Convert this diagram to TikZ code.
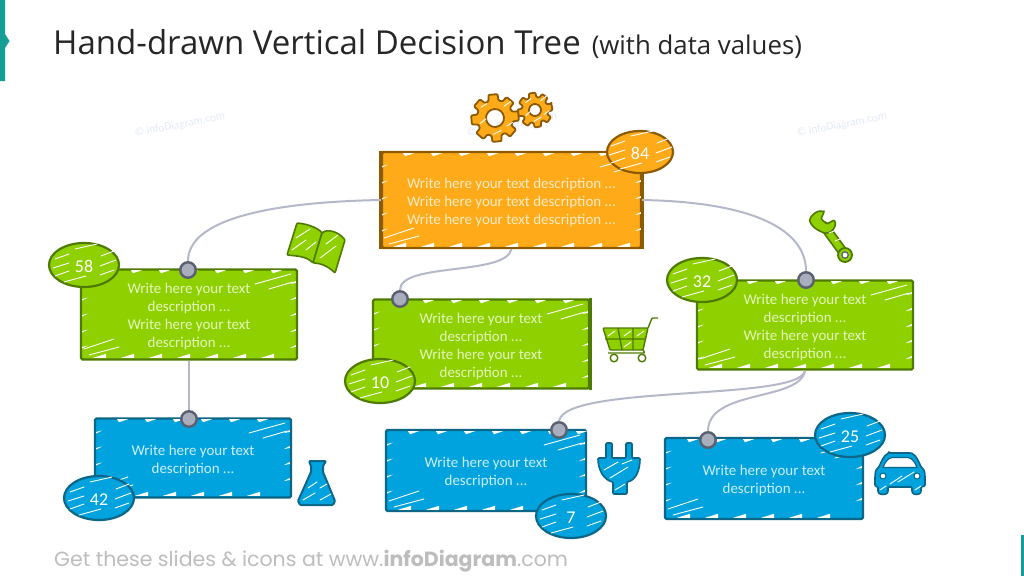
\documentclass[tikz,border=0pt]{standalone}
\usepackage{fontspec}
\setmainfont{Carlito}
\newfontfamily\titlefont{Open Sans}
\newfontfamily\footfont{Poppins}
\usetikzlibrary{shapes.geometric}
\definecolor{orfill}{HTML}{FFAB19}\definecolor{oredge}{HTML}{8C5A00}\definecolor{ortext}{HTML}{FFEBC4}
\definecolor{grfill}{HTML}{8FD000}\definecolor{gredge}{HTML}{4F7A00}\definecolor{grtext}{HTML}{E4F6BE}
\definecolor{blfill}{HTML}{00A3DE}\definecolor{bledge}{HTML}{0B6687}\definecolor{bltext}{HTML}{CDEEFB}
\definecolor{conn}{HTML}{B4B8C8}\definecolor{dotfill}{HTML}{A9AEBC}\definecolor{dotedge}{HTML}{5B6070}
\definecolor{teal}{HTML}{159E96}\definecolor{wm}{HTML}{E3EAF7}\definecolor{foot}{HTML}{BDBDBD}
\newcommand{\leadstrut}{\rule{0pt}{15.2pt}}
\tikzset{
  card/.style={draw,line width=2.2pt,rounded corners=1.5pt,align=center,inner sep=0pt,
    font=\fontsize{14.95}{18}\selectfont},
  orcard/.style={card,draw=oredge,fill=orfill,text=ortext},
  grcard/.style={card,draw=gredge,fill=grfill,text=grtext},
  blcard/.style={card,draw=bledge,fill=blfill,text=bltext},
  bubble/.style={ellipse,draw,line width=2.2pt,inner sep=0pt,text=white,minimum width=70pt,minimum height=44pt,
    font=\fontsize{18}{20}\selectfont,execute at begin node={\rule{0pt}{15pt}}},
  tick/.style={draw=white,line width=0.9pt,line cap=round},
  connector/.style={draw=conn,line width=2pt},
  pin/.style={circle,draw=dotedge,fill=dotfill,line width=2.4pt,minimum size=15.5pt,inner sep=0pt},
  icon/.style={line width=1.6pt,line join=round,rounded corners=1pt},
  watermark/.style={text=wm,rotate=11,font=\fontsize{11.4}{12}\selectfont},
}
\newcommand{\boxticks}[4]{%
  \pgfmathsetmacro\xa{#1+22}\pgfmathsetmacro\xb{#1+50}\pgfmathsetmacro\xe{#3-10}%
  \pgfmathsetmacro\ya{#2+14}\pgfmathsetmacro\yb{#2+30}\pgfmathsetmacro\ye{#4-8}%
  \foreach \x in {\xa,\xb,...,\xe}{%
    \fill[white] (\x,#2+1.2) -- ++(11,0) -- ++(-9,3) -- cycle;
    \fill[white] (\x-10,#4-1.2) -- ++(13,0) -- ++(0,-4) -- cycle;}
  \foreach \y in {\ya,\yb,...,\ye}{%
    \fill[white] (#1+1.2,\y) -- ++(6,-1.5) -- ++(-6,3) -- cycle;
    \fill[white] (#3-1.2,\y) -- ++(-6,1) -- ++(6,-3) -- cycle;}
  \draw[tick] (#3-42,#2+15) -- ++(36,-10); \draw[tick] (#3-28,#2+20) -- ++(24,-7);
  \draw[tick] (#1+3,#4-10) -- ++(30,-10); \draw[tick] (#1+8,#4-4) -- ++(30,-8);
}
\newcommand{\bubbleticks}[1]{%
  \begin{scope}[shift={(#1.center)}]
    \draw[tick] (-29,-6) -- ++(14,-5); \draw[tick] (-31,3) -- ++(16,-5); \draw[tick] (-29,11) -- ++(14,-5);
    \draw[tick] (-20,17) -- ++(22,-6); \draw[tick] (-9,-16) -- ++(22,-5);
    \draw[tick] (17,-9) -- ++(13,-5); \draw[tick] (16,1) -- ++(16,-6); \draw[tick] (16,10) -- ++(14,-5);
  \end{scope}}
\newcommand{\gearshape}[6]{% cx cy outer inner hole rot
  \begin{scope}[shift={(#1,#2)},rotate=#6]
    \draw[icon,draw=oredge,fill=orfill,even odd rule,line width=1.8pt]
      (-11:#3) \foreach \a in {0,45,...,315}{
        -- (\a-11:#3) -- (\a+11:#3) -- (\a+16:#4) -- (\a+29:#4)}
      -- cycle (0,0) circle (#5);
    \draw[tick] (-#4+3,4) -- ++(6,-4); \draw[tick] (#5+1,-#5-2) -- ++(7,-4); \draw[tick] (-3,#4-2) -- ++(8,-3);
    \draw[tick] (#5+2,#5) -- ++(6,-3); \draw[tick] (-#4+5,-#5-3) -- ++(6,-3);
  \end{scope}}
\begin{document}
\begin{tikzpicture}[x=1pt,y=-1pt]
\useasboundingbox (0,0) rectangle (1024,576);
\fill[white] (0,0) rectangle (1024,576);
% frame accents
\fill[teal] (0,0) -- (5,0) -- (5,34) -- (9.5,41) -- (5,48) -- (5,81) -- (0,81) -- cycle;
\fill[teal] (1021,535) rectangle (1024,576);
% title
\node[anchor=base west,inner sep=0pt,text=black!85] (title) at (53,54)
  {\titlefont\fontsize{33}{38}\selectfont Hand-drawn Vertical Decision Tree\hspace{11pt}\fontsize{25.8}{30}\selectfont (with data values)};
% watermarks
\node[watermark] (wm1) at (180,125) {© infoDiagram.com};
\node[watermark] (wm2) at (512,125) {© infoDiagram.com};
\node[watermark] (wm3) at (842,125) {© infoDiagram.com};
% footer
\node[anchor=base west,inner sep=0pt,text=foot] (footer) at (54,566)
  {\footfont\fontsize{20.5}{22}\selectfont Get these slides \& icons at www.\textbf{infoDiagram}.com};
% cards
\node[orcard,minimum width=259pt,minimum height=96pt] (top) at (511.5,200)
  {\leadstrut Write here your text description ...\\Write here your text description ...\\Write here your text description ...};
\draw[oredge,line width=3.5pt] (top.north west) -- (top.south west) (top.north east) -- (top.south east);
\boxticks{381}{152}{642}{248}
\node[grcard,minimum width=216pt,minimum height=90pt] (gl) at (189,314.5)
  {\leadstrut Write here your text\\description ...\\Write here your text\\description ...};
\boxticks{81}{269}{297}{359}
\node[grcard,minimum width=216pt,minimum height=89pt] (gm) at (481,344)
  {\leadstrut Write here your text\\description ...\\Write here your text\\description ...};
\draw[gredge,line width=2.8pt] (gm.north east) -- (gm.south east);
\boxticks{373}{299}{589}{388}
\node[grcard,minimum width=216pt,minimum height=89pt] (gr) at (805,325)
  {\leadstrut Write here your text\\description ...\\Write here your text\\description ...};
\boxticks{697}{280}{913}{369}
\node[blcard,minimum width=196pt,minimum height=79pt] (bl) at (193,458)
  {\leadstrut Write here your text\\description ...};
\boxticks{95}{418}{291}{497}
\node[blcard,minimum width=200pt,minimum height=81pt] (bm) at (486,470.5)
  {\leadstrut Write here your text\\description ...};
\boxticks{386}{430}{586}{511}
\node[blcard,minimum width=198pt,minimum height=81pt] (br) at (764,478.5)
  {\leadstrut Write here your text\\description ...};
\boxticks{665}{438}{863}{519}
% bubbles
\node[bubble,draw=oredge,fill=orfill,minimum width=66pt,minimum height=42pt] (n84) at (640,152) {84};
\bubbleticks{n84}
\node[bubble,draw=gredge,fill=grfill] (n58) at (84,265) {58}; \bubbleticks{n58}
\node[bubble,draw=gredge,fill=grfill] (n10) at (380,381) {10}; \bubbleticks{n10}
\node[bubble,draw=gredge,fill=grfill] (n32) at (702,280) {32}; \bubbleticks{n32}
\node[bubble,draw=bledge,fill=blfill] (n42) at (99,498) {42}; \bubbleticks{n42}
\node[bubble,draw=bledge,fill=blfill] (n7) at (571,516) {7}; \bubbleticks{n7}
\node[bubble,draw=bledge,fill=blfill] (n25) at (850,435) {25}; \bubbleticks{n25}
% pins
\node[pin] (pgl) at (188,270) {};
\node[pin] (pgm) at (400,299) {};
\node[pin] (pgr) at (806,280) {};
\node[pin] (pbl) at (189,419) {};
\node[pin] (pbm) at (559,430) {};
\node[pin] (pbr) at (708,440) {};
% connectors
\draw[connector] (top.west) .. controls +(-110,2) and +(0,-42) .. (pgl.north);
\draw[connector] (top.south) .. controls +(-6,27) and +(0,-28) .. (pgm.north);
\draw[connector] (top.east) .. controls +(110,2) and +(0,-42) .. (pgr.north);
\draw[connector] (gl.south) -- (pbl.north);
\draw[connector] (gr.south) .. controls +(-5,31) and +(6,-37) .. (pbm.north);
\draw[connector] (gr.south) .. controls +(-5,31) and +(0,-42) .. (pbr.north);
% gears
\gearshape{535}{110}{17.5}{13}{6}{10}
\gearshape{495}{118}{24}{18}{9}{5}
% book
\begin{scope}[icon]
  \draw[draw=gredge,fill=grfill] (297,223) .. controls (308,224) and (318,228) .. (322,233) -- (313,263) .. controls (306,256) and (296,256) .. (287,255) -- cycle;
  \draw[draw=gredge,fill=grfill] (322,233) .. controls (327,229) and (338,231) .. (345,240) -- (335,273) .. controls (328,266) and (320,263) .. (313,263) -- cycle;
\end{scope}
\draw[tick] (292,250) -- ++(14,-10); \draw[tick] (296,238) -- ++(14,-9); \draw[tick] (306,250) -- ++(10,-8);
\draw[tick] (320,258) -- ++(16,-12); \draw[tick] (326,244) -- ++(12,-9);
% wrench
\draw[gredge,line width=10pt,line cap=round] (824,226) -- (843,252);
\draw[grfill,line width=6.5pt,line cap=round] (824,226) -- (843,252);
\draw[icon,draw=gredge,fill=grfill] (824,212) -- (821,219) -- (827,224) -- (834,220) .. controls (838,226) and (830,236) .. (822,232)
  .. controls (812,228) and (807,220) .. (812,216) .. controls (815,212) and (820,210) .. (824,212) -- cycle;
\draw[draw=gredge,fill=grfill,line width=1.8pt] (845,255) circle (7);
\draw[draw=dotedge,fill=white,line width=1.2pt] (845,255) circle (3.2);
\draw[tick] (829,233) -- ++(5,-2); \draw[tick] (835,241) -- ++(5,-2);
% cart
\begin{scope}[icon,line width=1.4pt,draw=gredge]
  \draw[fill=grfill] (603,328) -- (648,328) -- (643,350) -- (610,350) -- cycle;
  \draw (618,328) -- (622,350) (633,328) -- (633,350) (605,339) -- (646,339);
  \draw (648,328) -- (652,318) -- (658,318) (643,350) -- (645,353) -- (608,353);
  \draw[fill=white] (614,358) circle (3.8) (642,358) circle (3.8);
\end{scope}
\draw[tick] (608,336) -- ++(7,-5); \draw[tick] (624,336) -- ++(7,-5); \draw[tick] (637,336) -- ++(7,-5);
\draw[tick] (624,347) -- ++(7,-5);
% flask
\draw[icon,draw=bledge,fill=blfill,line width=2pt] (309,461) -- (326,461) -- (323,466) -- (323,472) -- (335,501) -- (333,505) -- (300,505) -- (298,501) -- (311,472) -- (311,466) -- cycle;
\draw[tick] (303,500) -- ++(12,-7); \draw[tick] (308,488) -- ++(9,-6); \draw[tick] (320,500) -- ++(11,-6); \draw[tick] (320,488) -- ++(7,-4);
% plug
\draw[icon,draw=bledge,fill=blfill] (606,458) -- (606,443) -- (612,443) -- (612,458) -- (626,458) -- (626,443) -- (632,443) -- (632,458) -- (640,458)
  .. controls (640,470) and (636,480) .. (627,482) -- (627,494) -- (613,494) -- (613,482) .. controls (604,480) and (598,470) .. (598,458) -- cycle;
\draw[tick] (604,470) -- ++(14,-8); \draw[tick] (610,478) -- ++(18,-11); \draw[tick] (615,490) -- ++(10,-6); \draw[tick] (622,464) -- ++(10,-4);
% car
\draw[icon,draw=bledge,fill=blfill] (889,453) -- (911,453) .. controls (916,455) and (919,462) .. (921,467) .. controls (925,470) and (925,474) .. (925,478)
  -- (925,486) -- (921,487) -- (921,492) .. controls (919,495) and (914,495) .. (912,492) -- (912,487) -- (888,487) -- (888,492) .. controls (886,495) and (880,495) .. (878,492)
  -- (878,487) -- (875,486) -- (875,478) .. controls (875,474) and (875,470) .. (879,467) .. controls (881,462) and (884,455) .. (889,453) -- cycle;
\draw[draw=bledge,fill=white,line width=1.2pt] (883,467.5) .. controls (885,462) and (888,458) .. (892,457.5) -- (908,457.5) .. controls (912,458) and (915,462) .. (917,467.5) -- cycle;
\draw[draw=bledge,fill=white,line width=1pt] (883,476) circle (3) (917,476) circle (3);
\draw[tick] (890,484) -- ++(12,-8); \draw[tick] (898,482) -- ++(16,-10); \draw[tick] (880,490) -- ++(6,-4); \draw[tick] (915,490) -- ++(6,-4);
\end{tikzpicture}
\end{document}
